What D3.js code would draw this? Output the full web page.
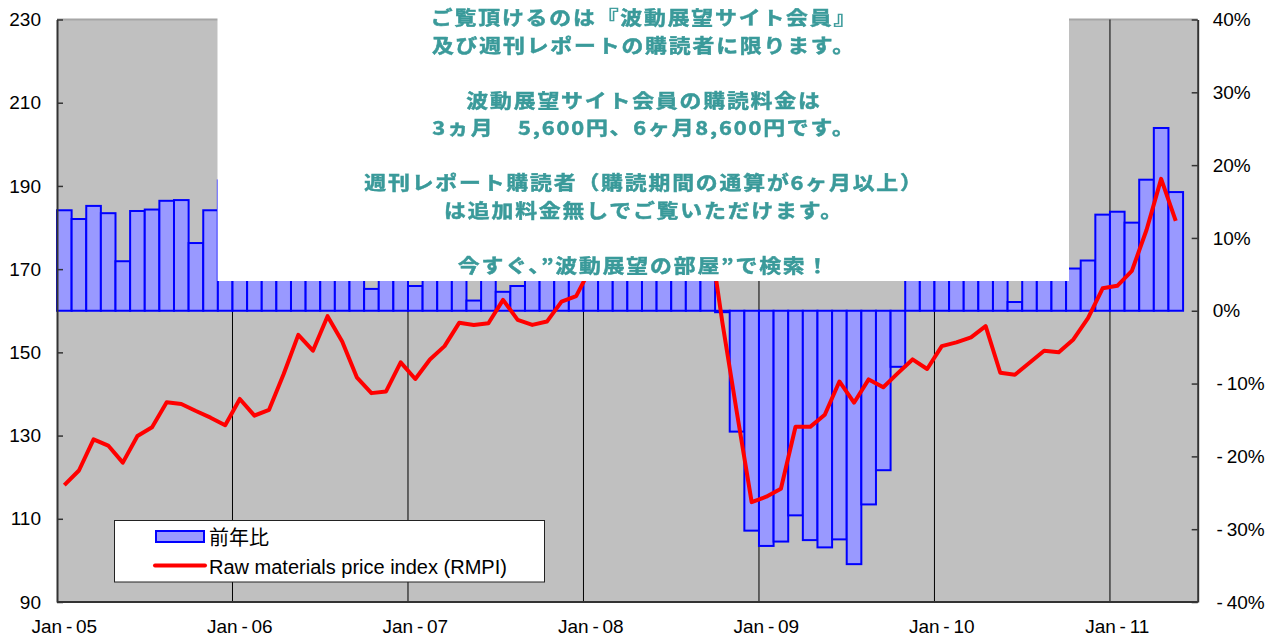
<!DOCTYPE html>
<html>
<head>
<meta charset="utf-8">
<script src="https://cdn.jsdelivr.net/npm/d3@7"></script>
<style>
  html, body { margin: 0; padding: 0; background: #ffffff; }
  svg { display: block; }
</style>
</head>
<body>
<svg id="chart" width="1266" height="639"></svg>
<script>
// Monthly series, Jan 2005 – May 2011
const startMonth = new Date(2005, 0, 1);
const endMonth = new Date(2011, 6, 1);   // axis runs one empty month past the last value

// Year-on-year change of the index (%), right axis
const yoyPct = [
  13.8, 12.6, 14.4, 13.4, 6.8, 13.7, 13.9, 15.1, 15.2, 9.3, 13.8, 17.9,
  17.5, 10.9, 5.5, 13.5, 24.9, 15.8, 20.2, 10.6, 4.7, 3.0, 4.7, 11.4,
  3.4, 10.0, 11.2, 8.5, 1.4, 4.4, 2.6, 3.4, 8.7, 12.3, 15.4, 10.8,
  18.4, 16.0, 21.5, 22.8, 27.7, 32.5, 30.0, 23.6, 15.6, -0.2, -16.6, -30.2,
  -32.3, -31.7, -28.1, -31.5, -32.5, -31.4, -34.8, -26.6, -21.9, -7.7, 9.6, 28.0,
  31.4, 30.0, 16.3, 18.3, 7.5, 1.2, 7.0, 4.8, 5.9, 5.8, 6.9, 13.2,
  13.6, 12.1, 18.0, 25.1, 16.3
];

// Raw materials price index, left axis
const rmpi = [
  118.1, 121.6, 129.1, 127.6, 123.5, 129.9, 132.0, 138.0, 137.6, 135.9, 134.3, 132.5,
  138.8, 134.8, 136.2, 144.8, 154.2, 150.4, 158.7, 152.6, 144.0, 140.2, 140.6, 147.6,
  143.6, 148.3, 151.5, 157.1, 156.6, 157.0, 162.6, 157.8, 156.6, 157.4, 162.2, 163.5,
  170.3, 171.6, 183.7, 192.8, 200.0, 208.5, 211.5, 195.5, 181.3, 157.1, 135.3, 114.0,
  115.3, 117.2, 132.1, 132.1, 135.0, 143.0, 137.9, 143.5, 141.6, 145.0, 148.3, 146.0,
  151.5, 152.4, 153.6, 156.3, 145.1, 144.6, 147.5, 150.4, 150.0, 153.1, 158.2, 165.4,
  166.0, 169.6, 179.4, 191.7, 181.6
];

const leftTicks = [90, 110, 130, 150, 170, 190, 210, 230];
const rightTicks = [-40, -30, -20, -10, 0, 10, 20, 30, 40];
const xTickLabels = ["Jan-05", "Jan-06", "Jan-07", "Jan-08", "Jan-09", "Jan-10", "Jan-11"];

const legendLabels = ["前年比", "Raw materials price index (RMPI)"];

const noticeLines = [
  "ご覧頂けるのは『波動展望サイト会員』",
  "及び週刊レポートの購読者に限ります。",
  "",
  "波動展望サイト会員の購読料金は",
  "3ヵ月\u30005,600円、6ヶ月8,600円です。",
  "",
  "週刊レポート購読者（購読期間の通算が6ヶ月以上）",
  "は追加料金無しでご覧いただけます。",
  "",
  "今すぐ、”波動展望の部屋”で検索！"
];

// ---- layout
const plot = { left: 57, right: 1197.7, top: 19.5, bottom: 602 };
const latin = "'Liberation Sans', Arial, sans-serif";
const cjk = "'Noto Sans CJK JP', 'Noto Sans', sans-serif";

const months = d3.timeMonth.range(startMonth, endMonth);
const keyFmt = d3.timeFormat("%Y-%m");
const labelFmt = d3.timeFormat("%b-%y");

const x = d3.scaleBand()
  .domain(months.map(keyFmt))
  .range([plot.left, plot.right])
  .padding(0);

const yL = d3.scaleLinear().domain([90, 230]).range([plot.bottom, plot.top]);
const yR = d3.scaleLinear().domain([-40, 40]).range([plot.bottom, plot.top]);

const series = months.slice(0, rmpi.length).map((m, i) => ({
  key: keyFmt(m), yoy: yoyPct[i], rmpi: rmpi[i]
}));

const janKeys = months.filter(m => xTickLabels.includes(labelFmt(m))).map(keyFmt);
const labelOf = k => labelFmt(d3.timeParse("%Y-%m")(k));

const svg = d3.select("#chart");

const defs = svg.append("defs");
defs.append("filter").attr("id", "soft")
  .append("feGaussianBlur").attr("stdDeviation", 0.6);

// plot background
svg.append("rect")
  .attr("x", plot.left).attr("y", plot.top)
  .attr("width", plot.right - plot.left).attr("height", plot.bottom - plot.top)
  .attr("fill", "#c0c0c0");

// top border
svg.append("line")
  .attr("x1", plot.left).attr("x2", plot.right)
  .attr("y1", plot.top).attr("y2", plot.top)
  .attr("stroke", "#a6a6a6").attr("stroke-width", 2);

// vertical gridlines at each January
svg.append("g").selectAll("line")
  .data(janKeys.filter(k => x(k) > plot.left + 1))
  .join("line")
  .attr("x1", d => x(d)).attr("x2", d => x(d))
  .attr("y1", plot.top).attr("y2", plot.bottom)
  .attr("stroke", "#000").attr("stroke-width", 1);

// YoY bars
svg.append("g").selectAll("rect")
  .data(series)
  .join("rect")
  .attr("x", d => x(d.key))
  .attr("width", x.bandwidth())
  .attr("y", d => Math.min(yR(d.yoy), yR(0)))
  .attr("height", d => Math.abs(yR(d.yoy) - yR(0)))
  .attr("fill", "#9999ff")
  .attr("stroke", "#0000ff")
  .attr("stroke-width", 2);

// RMPI line
const line = d3.line()
  .x(d => x(d.key) + x.bandwidth() / 2)
  .y(d => yL(d.rmpi));

svg.append("path")
  .datum(series)
  .attr("d", line)
  .attr("fill", "none")
  .attr("stroke", "#ff0000")
  .attr("stroke-width", 4)
  .attr("stroke-linejoin", "round");

// axes
const spaced = s => s.replace("-", "\u2009-\u2009");

const axL = svg.append("g")
  .attr("transform", `translate(${plot.left},0)`)
  .call(d3.axisLeft(yL).tickValues(leftTicks).tickSizeInner(-6).tickSizeOuter(0).tickPadding(16));

const axR = svg.append("g")
  .attr("transform", `translate(${plot.right},0)`)
  .call(d3.axisRight(yR).tickValues(rightTicks).tickSizeInner(-6).tickSizeOuter(0).tickPadding(15)
    .tickFormat(d => spaced(d + "%")));

const axB = svg.append("g")
  .attr("transform", `translate(0,${plot.bottom})`)
  .call(d3.axisBottom(x).tickValues(janKeys).tickSize(0).tickPadding(18)
    .tickFormat(k => spaced(labelOf(k))));

[axL, axR, axB].forEach(g => {
  g.select(".domain").attr("stroke", "#333").attr("stroke-width", 2);
  g.selectAll(".tick line").attr("stroke", "#333").attr("stroke-width", 1.5);
  g.selectAll("text")
    .attr("font-family", latin)
    .attr("font-size", 19)
    .attr("fill", "#000");
});
axB.select(".domain").attr("d", `M${plot.left},0H${plot.right}`);

// notice panel
svg.append("rect")
  .attr("x", 217.5).attr("y", 0)
  .attr("width", 1069 - 217.5).attr("height", 281)
  .attr("fill", "#ffffff");

svg.append("g")
  .attr("filter", "url(#soft)")
  .selectAll("text")
  .data(noticeLines)
  .join("text")
  .attr("transform", (d, i) => `translate(644,${17 + i * 27.5}) scale(1.15,1)`)
  .attr("dominant-baseline", "central")
  .attr("text-anchor", "middle")
  .attr("font-family", cjk)
  .attr("font-weight", "bold")
  .attr("font-size", 19)
  .attr("letter-spacing", 1.6)
  .attr("fill", "#3a9a9a")
  .attr("stroke", "#3a9a9a")
  .attr("stroke-width", 0.5)
  .text(d => d);

// legend
const lg = svg.append("g");
lg.append("rect")
  .attr("x", 114.5).attr("y", 520.5)
  .attr("width", 430).attr("height", 61.5)
  .attr("fill", "#fff").attr("stroke", "#222").attr("stroke-width", 1);

lg.append("rect")
  .attr("x", 156).attr("y", 531)
  .attr("width", 48).attr("height", 11)
  .attr("fill", "#9999ff").attr("stroke", "#0000ff").attr("stroke-width", 2);

lg.append("line")
  .attr("x1", 155).attr("x2", 205)
  .attr("y1", 565.5).attr("y2", 565.5)
  .attr("stroke", "#ff0000").attr("stroke-width", 4).attr("stroke-linecap", "round");

lg.selectAll("text.lbl")
  .data(legendLabels)
  .join("text")
  .attr("class", "lbl")
  .attr("x", 209)
  .attr("y", (d, i) => i === 0 ? 536 : 567)
  .attr("dominant-baseline", "central")
  .attr("font-family", (d, i) => i === 0 ? cjk : latin)
  .attr("font-size", 20)
  .attr("fill", "#000")
  .text(d => d);
</script>
</body>
</html>
